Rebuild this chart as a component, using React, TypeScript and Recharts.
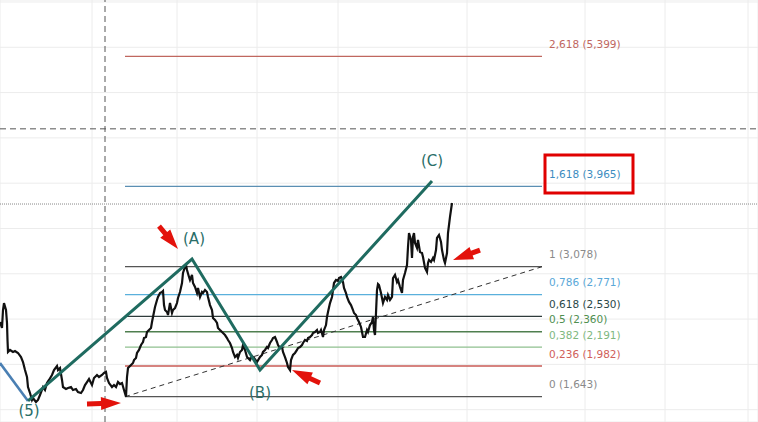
import React from "react";
import {
  ComposedChart,
  Line,
  XAxis,
  YAxis,
  CartesianGrid,
  ReferenceLine,
  ReferenceDot,
  ReferenceArea,
} from "recharts";

// price path, [time, price]
const PRICE: [number, number][] = [
  [0, 2.468], [2, 2.402], [3, 2.6], [4, 2.677], [6, 2.6], [7, 2.457], [7.5, 2.269], [8, 2.137],
  [10, 2.159], [13, 2.137], [15, 2.148], [18, 2.126], [21, 2.081], [23, 2.026], [25, 1.938],
  [27, 1.861], [28, 1.75], [30, 1.684], [32, 1.607], [33, 1.629], [36, 1.585], [38, 1.607],
  [40, 1.662], [43, 1.75], [45, 1.717], [47, 1.794], [49, 1.828], [52, 1.883], [54, 1.938],
  [57, 1.982], [58, 1.938], [60, 1.96], [62, 1.828], [63, 1.75], [66, 1.728], [68, 1.739],
  [71, 1.75], [73, 1.717], [76, 1.728], [78, 1.695], [81, 1.684], [83, 1.717], [85, 1.772],
  [87, 1.805], [89, 1.839], [92, 1.772], [94, 1.85], [97, 1.883], [99, 1.861], [102, 1.883],
  [104, 1.905], [106, 1.916], [107, 1.85], [109, 1.794], [112, 1.75], [114, 1.772], [116, 1.75],
  [118, 1.805], [120, 1.783], [122, 1.794], [124, 1.717], [126, 1.643],
  [127, 1.861], [128, 1.96], [131, 1.993], [133, 2.015], [134, 2.048], [136, 2.07], [137, 2.126],
  [139, 2.159], [141, 2.214], [143, 2.247], [144, 2.291], [146, 2.302], [147, 2.357], [149, 2.379],
  [151, 2.401], [152, 2.468], [153, 2.523], [155, 2.633], [157, 2.711], [158, 2.744], [160, 2.788],
  [162, 2.799], [163, 2.81], [164, 2.655], [165, 2.6], [167, 2.578], [168, 2.545], [170, 2.677],
  [172, 2.567], [173, 2.6], [175, 2.622], [177, 2.677], [178, 2.733], [180, 2.799], [182, 2.898],
  [183, 3.009], [185, 3.075], [186, 3.097], [187, 3.042], [189, 2.965], [190, 2.931], [192, 2.987],
  [193, 2.898], [195, 2.854], [197, 2.788], [198, 2.843], [200, 2.744], [202, 2.799], [203, 2.788],
  [205, 2.821], [207, 2.799], [208, 2.744], [210, 2.655], [212, 2.6], [213, 2.512], [215, 2.49],
  [217, 2.457], [218, 2.402], [220, 2.379], [222, 2.357], [223, 2.346], [225, 2.324], [227, 2.291],
  [228, 2.269], [230, 2.236], [232, 2.181], [233, 2.137], [235, 2.081], [237, 2.104], [238, 2.07],
  [240, 2.137], [242, 2.159], [243, 2.214], [245, 2.159], [247, 2.081], [248, 2.07],
  [250, 2.048], [252, 2.092], [254, 2.07], [257, 2.026], [260, 2.081], [262, 2.104], [263, 2.137],
  [265, 2.159], [267, 2.192], [268, 2.181], [270, 2.236], [272, 2.269], [273, 2.291], [275, 2.302],
  [277, 2.247], [278, 2.214], [280, 2.181], [282, 2.192], [283, 2.137], [285, 2.081], [287, 2.015],
  [288, 1.971], [290, 1.938], [291, 2.048], [293, 2.104], [295, 2.126], [297, 2.159], [298, 2.181],
  [300, 2.192], [302, 2.214], [303, 2.236], [305, 2.269], [307, 2.258], [308, 2.291], [310, 2.302],
  [312, 2.324], [313, 2.346], [315, 2.357], [317, 2.379], [318, 2.346], [320, 2.357], [321, 2.379],
  [323, 2.302], [324, 2.379], [326, 2.434], [327, 2.523], [328, 2.578], [330, 2.677], [332, 2.744],
  [333, 2.821], [334, 2.898], [336, 2.931], [338, 2.92], [339, 2.953], [341, 2.964], [343, 2.909],
  [344, 2.843], [346, 2.788], [347, 2.744], [349, 2.689], [351, 2.655], [353, 2.6], [354, 2.567],
  [356, 2.545], [357, 2.512], [359, 2.468], [361, 2.413], [362, 2.357], [363, 2.302], [365, 2.302],
  [367, 2.379], [368, 2.357], [370, 2.434], [372, 2.468], [373, 2.523], [374, 2.379], [375, 2.324],
  [376, 2.567], [377, 2.821], [378, 2.887], [379, 2.876], [381, 2.788], [382, 2.733], [383, 2.677],
  [385, 2.744], [387, 2.711], [388, 2.766], [390, 2.711], [392, 2.744], [393, 2.953], [395, 2.987],
  [397, 2.909], [398, 2.931], [400, 2.854], [402, 2.788], [403, 2.931], [405, 3.009], [407, 3.097],
  [408, 3.296], [409, 3.45], [411, 3.373], [412, 3.174], [413, 3.406], [414, 3.45], [415, 3.34],
  [417, 3.285], [418, 3.373], [420, 3.24], [422, 3.229], [423, 3.185], [425, 3.064], [427, 3.02],
  [428, 3.119], [429, 3.152], [431, 3.13], [433, 3.174], [434, 3.152], [436, 3.262], [437, 3.395],
  [439, 3.428], [441, 3.351], [442, 3.262], [444, 3.152], [445, 3.119], [447, 3.229], [448, 3.45],
  [450, 3.627], [452, 3.781],
];

// elliott waves (5) -> (A) -> (B) -> (C)
const WAVE_T = [28, 192, 260, 432];
const WAVE_V = [1.596, 3.163, 1.938, 4.024];
const WAVE_NAMES = ["(5)", "(A)", "(B)", "(C)"];
const WAVE_LABEL_T = [29, 194, 260, 432];
const WAVE_LABEL_V = [1.49, 3.384, 1.684, 4.245];
const PREV_WAVE: [number, number][] = [[0, 2.015], [28, 1.596]];

// fibonacci extension
const FIB_RATIOS = ["2,618", "1,618", "1", "0,786", "0,618", "0,5", "0,382", "0,236", "0"];
const FIB_PRICES = [5.399, 3.965, 3.078, 2.771, 2.53, 2.36, 2.191, 1.982, 1.643];
const FIB_LINE_COLORS = ["#c0675f", "#5b8fb3", "#555555", "#5ab0dc", "#2f3b3b", "#4f7f4f", "#8fc08f", "#c85a55", "#555555"];
const FIB_TEXT_COLORS = ["#c0675f", "#3d8cc0", "#8a8a8a", "#5aa8d8", "#2b4848", "#4f8f4f", "#7fb87f", "#d0605a", "#8a8a8a"];
const FIB_FROM = 125;
const FIB_TO = 542;

// red arrows: [tailT, tailV, tipT, tipV]
const ARROWS: [number, number, number, number][] = [
  [159, 3.527, 178, 3.274],
  [87, 1.563, 121, 1.574],
  [320, 1.794, 292, 1.938],
  [480, 3.262, 453, 3.152],
];

const GRID_T = [92, 177, 257, 338, 467, 585, 665, 748];
const GRID_V = [1.5, 2, 2.5, 3, 3.5, 4, 4.5, 5, 5.5, 6];

const rows = PRICE.map(([t, p]) => ({ t, p }));
const waveRows = WAVE_T.map((t, i) => ({ t, w: WAVE_V[i] }));
const prevRows = PREV_WAVE.map(([t, v]) => ({ t, w: v }));

const FONT = "'DejaVu Sans', Verdana, sans-serif";

function Arrow(props: any) {
  const { x1, y1, x2, y2 } = props;
  const dx = x2 - x1;
  const dy = y2 - y1;
  const len = Math.hypot(dx, dy);
  const ux = dx / len;
  const uy = dy / len;
  const nx = -uy;
  const ny = ux;
  const headLen = 20;
  const headW = 6.5;
  const shaftW = 2.5;
  const bx = x2 - ux * headLen;
  const by = y2 - uy * headLen;
  const pts = [
    [x1 + nx * shaftW, y1 + ny * shaftW],
    [bx + nx * shaftW, by + ny * shaftW],
    [bx + nx * headW, by + ny * headW],
    [x2, y2],
    [bx - nx * headW, by - ny * headW],
    [bx - nx * shaftW, by - ny * shaftW],
    [x1 - nx * shaftW, y1 - ny * shaftW],
  ]
    .map((p) => p.join(","))
    .join(" ");
  return <polygon points={pts} fill="#e3120b" />;
}

export default function App() {
  return (
    <div style={{ position: "absolute", left: 0, top: 0, width: 758, height: 422, background: "#fff", overflow: "hidden" }}>
      <ComposedChart width={758} height={422} data={rows} margin={{ top: 0, right: 0, bottom: 0, left: 0 }}>
        <XAxis dataKey="t" type="number" domain={[0, 758]} ticks={GRID_T} hide allowDataOverflow />
        <YAxis type="number" domain={[1.364, 6.022]} ticks={GRID_V} hide allowDataOverflow />
        <CartesianGrid stroke="#ececec" />

        <ReferenceLine x={105} stroke="#555" strokeDasharray="6 4" />
        <ReferenceLine y={4.6} stroke="#555" strokeDasharray="6 4" />
        <ReferenceLine y={3.77} stroke="#888" strokeDasharray="1 1" />

        {FIB_PRICES.map((v, i) => (
          <ReferenceLine
            key={"fib" + i}
            segment={[{ x: FIB_FROM, y: v }, { x: FIB_TO, y: v }]}
            stroke={FIB_LINE_COLORS[i]}
            strokeWidth={1.3}
          />
        ))}
        <ReferenceLine
          segment={[{ x: FIB_FROM, y: FIB_PRICES[8] }, { x: FIB_TO, y: FIB_PRICES[2] }]}
          stroke="#333"
          strokeDasharray="5 4"
        />
        {FIB_PRICES.map((v, i) => (
          <ReferenceDot
            key={"fl" + i}
            x={549}
            y={v}
            shape={(p: any) => (
              <text
                x={p.cx}
                y={p.cy - 12.5}
                dominantBaseline="central"
                fontFamily={FONT}
                fontSize={10.5}
                fill={FIB_TEXT_COLORS[i]}
              >
                {`${FIB_RATIOS[i]} (${v.toFixed(3).replace(".", ",")})`}
              </text>
            )}
          />
        ))}
        <ReferenceArea x1={545} x2={633} y1={3.892} y2={4.311} fill="none" stroke="#e00000" strokeWidth={3} ifOverflow="visible" />

        <Line data={prevRows} dataKey="w" type="linear" stroke="#4a7fb3" strokeWidth={2.6} dot={false} activeDot={false} legendType="none" isAnimationActive={false} />
        <Line dataKey="p" type="linear" stroke="#111" strokeWidth={2.2} dot={false} activeDot={false} legendType="none" isAnimationActive={false} />
        <Line data={waveRows} dataKey="w" type="linear" stroke="#1f6b60" strokeWidth={3} dot={false} activeDot={false} legendType="none" isAnimationActive={false} />

        {WAVE_NAMES.map((name, i) => (
          <ReferenceDot
            key={"wl" + i}
            x={WAVE_LABEL_T[i]}
            y={WAVE_LABEL_V[i]}
            ifOverflow="visible"
            shape={(p: any) => (
              <text
                x={p.cx}
                y={p.cy}
                textAnchor="middle"
                dominantBaseline="central"
                fontFamily={FONT}
                fontSize={15}
                fill="#2a6e68"
              >
                {name}
              </text>
            )}
          />
        ))}

        {ARROWS.map(([t1, v1, t2, v2], i) => (
          <ReferenceLine key={"ar" + i} segment={[{ x: t1, y: v1 }, { x: t2, y: v2 }]} shape={Arrow} />
        ))}
      </ComposedChart>
    </div>
  );
}
